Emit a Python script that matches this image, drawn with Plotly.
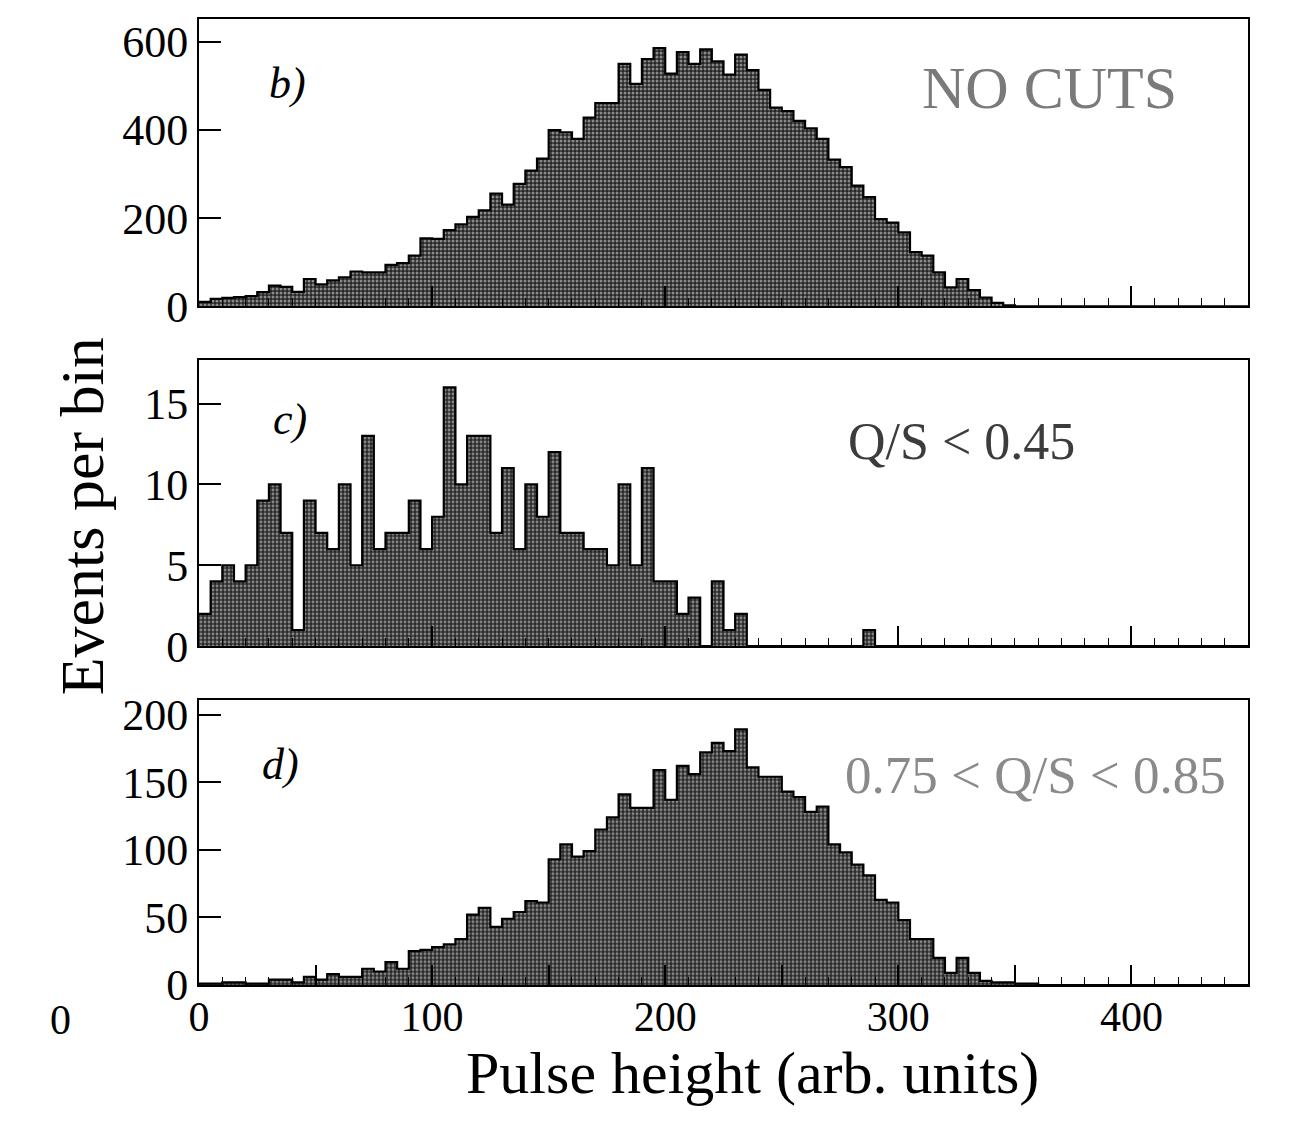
import numpy as np
import plotly.graph_objects as go

# ---------------- data ----------------
bin_width = 5
bin_left = np.arange(0, 450, bin_width)          # 90 bins, 0..450

counts_b = [10, 17, 19, 21, 23, 32, 47, 44, 33, 62, 50, 59, 66, 79, 77, 77, 94, 98, 115, 154,
            153, 173, 186, 203, 218, 256, 231, 278, 308, 335, 400, 395, 380, 428, 461, 461, 550, 505, 561, 586,
            528, 577, 550, 583, 556, 526, 571, 536, 491, 451, 443, 421, 404, 380, 333, 316, 274, 248, 198, 190,
            168, 123, 115, 77, 43, 62, 37, 20, 8, 2] + [0] * 20

counts_c = [2, 4, 5, 4, 5, 9, 10, 7, 1, 9, 7, 6, 10, 5, 13, 6, 7, 7, 9, 6,
            8, 16, 10, 13, 13, 7, 11, 6, 10, 8, 12, 7, 7, 6, 6, 5, 10, 5, 11, 4,
            4, 2, 3, 0, 4, 1, 2, 0, 0, 0, 0, 0, 0, 0, 0, 0, 0, 1] + [0] * 32

counts_d = [1, 1, 2, 2, 1, 1, 4, 4, 2, 6, 4, 8, 6, 6, 12, 10, 17, 12, 25, 26,
            28, 30, 34, 52, 57, 43, 49, 54, 62, 61, 93, 104, 95, 99, 115, 124, 141, 131, 131, 159,
            137, 162, 156, 172, 179, 173, 189, 161, 154, 154, 143, 139, 128, 132, 104, 98, 89, 81, 63, 61,
            48, 34, 34, 20, 9, 20, 9, 3, 2, 2, 1, 1] + [0] * 18

panel_labels = ["b)", "c)", "d)"]
cut_labels = ["NO CUTS", "Q/S < 0.45", "0.75 < Q/S < 0.85"]
cut_colors = ["#7a7a7a", "#3c3c3c", "#8a8a8a"]
cut_sizes = [60, 52, 53]
y_ranges = [[0, 652], [0, 17.7], [0, 211]]
y_ticks = [[0, 200, 400, 600], [0, 5, 10, 15], [0, 50, 100, 150, 200]]
x_tickvals = [0, 50, 100, 150, 200, 250, 300, 350, 400, 450]
x_ticktext = ["0", "", "100", "", "200", "", "300", "", "400", ""]

# ---------------- figure ----------------
FONT = "Liberation Serif, Times New Roman, serif"
W, H = 1290, 1126
L, R, T, B = 199, 42, 10, 141
plot_h = H - T - B
plot_w = W - L - R
BOTTOM_PX = H - B


def dom(top_px, bot_px):
    return [max(0.0, (BOTTOM_PX - bot_px) / plot_h), min(1.0, (BOTTOM_PX - top_px) / plot_h)]


domains = [dom(10, 300), dom(354, 643), dom(697, 985)]

fig = go.Figure()
all_counts = [counts_b, counts_c, counts_d]
for i, cnt in enumerate(all_counts):
    xa = "x" if i == 0 else f"x{i+1}"
    ya = "y" if i == 0 else f"y{i+1}"
    centers = bin_left + bin_width / 2
    fig.add_trace(go.Bar(
        x=centers, y=cnt, width=bin_width, xaxis=xa, yaxis=ya,
        marker=dict(color="#2a2a2a", line=dict(width=0),
                    pattern=dict(shape=".", fgcolor="#eeeeee", bgcolor="#262626",
                                 size=4, solidity=0.45)),
        showlegend=False, hoverinfo="skip"))
    edges = list(bin_left) + [450]
    yy = list(cnt) + [cnt[-1]]
    fig.add_trace(go.Scatter(
        x=edges, y=yy, mode="lines", line=dict(shape="hv", color="black", width=2.2),
        xaxis=xa, yaxis=ya, showlegend=False, hoverinfo="skip"))

layout = dict(
    width=W, height=H, margin=dict(l=L, r=R, t=T, b=B),
    paper_bgcolor="white", plot_bgcolor="white",
    bargap=0, font=dict(family=FONT, color="black"),
)
for i in range(3):
    xk = "xaxis" if i == 0 else f"xaxis{i+1}"
    yk = "yaxis" if i == 0 else f"yaxis{i+1}"
    ya = "y" if i == 0 else f"y{i+1}"
    xa = "x" if i == 0 else f"x{i+1}"
    layout[xk] = dict(
        domain=[0, 1], anchor=ya, range=[0, 450],
        showline=True, linecolor="black", linewidth=2, mirror=True,
        ticks="inside", ticklen=20, tickwidth=1.5, tickcolor="black",
        tickvals=x_tickvals, ticktext=x_ticktext,
        showticklabels=(i == 2), tickfont=dict(size=42, family=FONT, color="black"),
        ticklabelstandoff=-6,
        minor=dict(ticks="inside", ticklen=8, tickwidth=1.3, tickcolor="black", dtick=10, showgrid=False),
        showgrid=False, zeroline=False,
    )
    if i != 0:
        layout[xk]["matches"] = "x"
    layout[yk] = dict(
        domain=domains[i], anchor=xa, range=y_ranges[i],
        showline=True, linecolor="black", linewidth=2, mirror=True,
        ticks="inside", ticklen=22, tickwidth=1.5, tickcolor="black",
        tickvals=y_ticks[i], tickfont=dict(size=44, family=FONT, color="black"),
        showgrid=False, zeroline=False,
    )
fig.update_layout(**layout)

ann = []
label_pos = [(0.084, 0.775), (0.087, 0.792), (0.078, 0.774)]
cut_pos = [(0.811, 0.761), (0.727, 0.716), (0.797, 0.736)]
for i in range(3):
    xa = "x" if i == 0 else f"x{i+1}"
    ya = "y" if i == 0 else f"y{i+1}"
    ann.append(dict(text=f"<i>{panel_labels[i]}</i>", xref=f"{xa} domain", yref=f"{ya} domain",
                    x=label_pos[i][0], y=label_pos[i][1], xanchor="center", yanchor="middle",
                    showarrow=False, font=dict(size=44, family=FONT, color="black")))
    ann.append(dict(text=cut_labels[i], xref=f"{xa} domain", yref=f"{ya} domain",
                    x=cut_pos[i][0], y=cut_pos[i][1], xanchor="center", yanchor="middle",
                    showarrow=False, font=dict(size=cut_sizes[i], family=FONT, color=cut_colors[i])))
ann.append(dict(text="Events per bin", xref="paper", yref="paper", x=(82 - L) / plot_w,
                y=(BOTTOM_PX - 512) / plot_h, xanchor="center", yanchor="middle", textangle=-90,
                showarrow=False, font=dict(size=62, family=FONT, color="black")))
ann.append(dict(text="Pulse height (arb. units)", xref="paper", yref="paper", x=(752 - L) / plot_w,
                y=(BOTTOM_PX - 1074) / plot_h, xanchor="center", yanchor="middle",
                showarrow=False, font=dict(size=60, family=FONT, color="black")))
ann.append(dict(text="0", xref="paper", yref="paper", x=(60 - L) / plot_w,
                y=(BOTTOM_PX - 1020) / plot_h, xanchor="center", yanchor="middle",
                showarrow=False, font=dict(size=42, family=FONT, color="black")))
fig.update_layout(annotations=ann)

fig.write_html("out.html")
